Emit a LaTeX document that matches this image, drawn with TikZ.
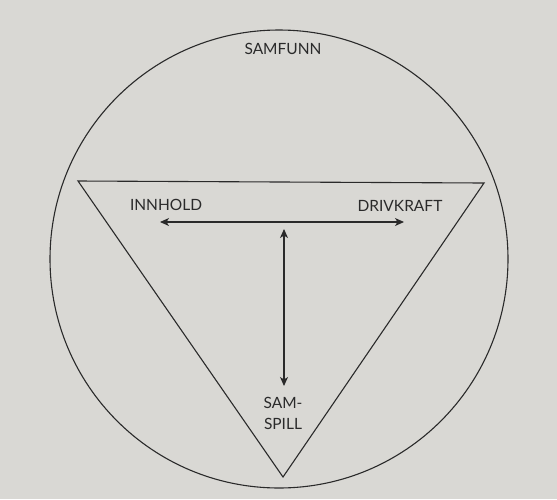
\documentclass[tikz,border=0pt]{standalone}
\usepackage{fontspec}
\setmainfont{Lato}
\usetikzlibrary{arrows.meta}
\definecolor{paper}{HTML}{D9D8D4}
\definecolor{ink}{HTML}{2A2A2A}
\begin{document}
\begin{tikzpicture}[x=1pt,y=-1pt,
  line/.style={draw=ink,line width=1.1pt},
  tip/.style={Stealth[length=9pt,width=8pt,inset=2.5pt]},
  conn/.style={line,-{Stealth[length=9pt,width=8pt,inset=2.5pt]}},
  lbl/.style={text=ink,font=\fontsize{15.5}{19}\selectfont,inner sep=0pt,align=center}]
\fill[paper] (0,0) rectangle (557,499);
\useasboundingbox (0,0) rectangle (557,499);
\draw[line] (279,259) circle[radius=229];
\coordinate (tl) at (78,181);
\coordinate (tr) at (484,183);
\coordinate (bt) at (283,477);
\draw[line,line join=miter] (tl) -- (tr) -- (bt) -- cycle;
\node[lbl] (samfunn) at (283,49) {SAMFUNN};
\node[lbl] (innhold) at (166,205) {INNHOLD};
\node[lbl] (drivkraft) at (400,206) {DRIVKRAFT};
\node[lbl,text width=60pt,font=\fontsize{15.5}{21}\selectfont] (samspill) at (283,413) {SAM-\\SPILL};
\coordinate (hl) at (160,222);
\coordinate (hr) at (404,222);
\coordinate (vt) at (284,229);
\coordinate (vb) at (284,386);
\coordinate (hm) at (284,222);
\draw[conn] (hm) -- (hl);
\draw[conn] (hm) -- (hr);
\draw[line,{Stealth[length=9pt,width=8pt,inset=2.5pt]}-{Stealth[length=9pt,width=8pt,inset=2.5pt]}] (vt) -- (vb);
\end{tikzpicture}
\end{document}
